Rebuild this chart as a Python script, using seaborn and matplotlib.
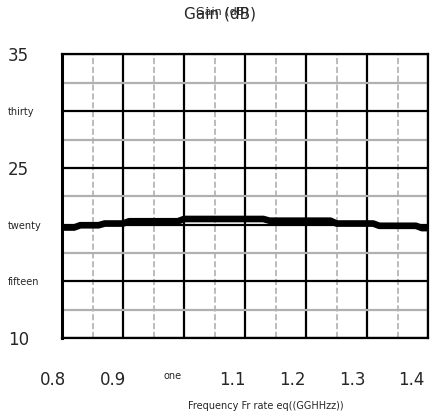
import matplotlib
matplotlib.use('Agg')
import matplotlib.pyplot as plt
import matplotlib.transforms as mtransforms
import seaborn as sns
import pandas as pd
from matplotlib.ticker import MultipleLocator

freq = [0.80, 0.82, 0.83, 0.86, 0.87, 0.90, 0.91, 0.99, 1.00, 1.13, 1.14, 1.24, 1.25, 1.31, 1.32, 1.38, 1.39, 1.40]
gain = [19.75, 19.75, 19.95, 19.95, 20.1, 20.1, 20.3, 20.3, 20.5, 20.5, 20.35, 20.35, 20.1, 20.1, 19.9, 19.9, 19.7, 19.7]
xticks = [0.8, 0.9, 1.0, 1.1, 1.2, 1.3, 1.4]
xtick_labels = ['0.8', '0.9', 'one', '1.1', '1.2', '1.3', '1.4']
yticks = [10, 15, 20, 25, 30, 35]
ytick_labels = ['10', 'fifteen', 'twenty', '25', 'thirty', '35']

df = pd.DataFrame({'freq': freq, 'gain': gain})

sns.set_style('white')
plt.rcParams['font.family'] = ['DejaVu Sans']

fig = plt.figure(figsize=(4.32, 4.19), dpi=100)
ax = fig.add_axes([0.1435, 0.193, 0.8475, 0.677])

sns.lineplot(data=df, x='freq', y='gain', color='black', linewidth=4.8, ax=ax)

ax.set_xlim(0.8, 1.4)
ax.set_ylim(10, 35)
ax.set_xticks(xticks)
ax.set_xticklabels(xtick_labels)
ax.set_yticks(yticks)
ax.set_yticklabels(ytick_labels)
ax.xaxis.set_minor_locator(MultipleLocator(0.05))
ax.yaxis.set_minor_locator(MultipleLocator(2.5))

ax.grid(which='major', color='black', linewidth=1.6)
ax.grid(which='minor', axis='x', color='#b0b0b0', linestyle='--', linewidth=1.2)
ax.grid(which='minor', axis='y', color='#b0b0b0', linestyle='-', linewidth=1.6)
ax.set_axisbelow(True)

for s in ax.spines.values():
    s.set_color('black')
    s.set_linewidth(1.6)
ax.spines['left'].set_linewidth(2.2)

ax.tick_params(axis='both', which='major', direction='out', length=7, width=1.6, color='black')
ax.tick_params(axis='both', which='minor', direction='out', length=4, width=1.6, color='black')
ax.tick_params(axis='x', which='major', pad=17)
ax.tick_params(axis='y', which='major', pad=32)

for lbl in ax.get_yticklabels():
    lbl.set_horizontalalignment('left')
    lbl.set_fontsize(12 if lbl.get_text().isdigit() else 7)
# labels in the reference sit a little left of their ticks, drifting more to the right
for i, lbl in enumerate(ax.get_xticklabels()):
    lbl.set_fontsize(7 if lbl.get_text() == 'one' else 12)
    dx = (-8.7 - 1.3 * i) / 100
    lbl.set_transform(lbl.get_transform() + mtransforms.ScaledTranslation(dx, 0, fig.dpi_scale_trans))

ax.set_xlabel('')
ax.set_ylabel('')
ax.text(0.557, -0.24, 'Frequency Fr rate eq((GGHHzz))', transform=ax.transAxes,
        ha='center', va='center', fontsize=7)

ax.text(0.432, 1.143, 'Gain (dB)', transform=ax.transAxes, ha='center', va='center', fontsize=11)
ax.text(0.437, 1.152, 'Gain (dB)', transform=ax.transAxes, ha='center', va='center', fontsize=8)

fig.savefig('out.png', dpi=100)
